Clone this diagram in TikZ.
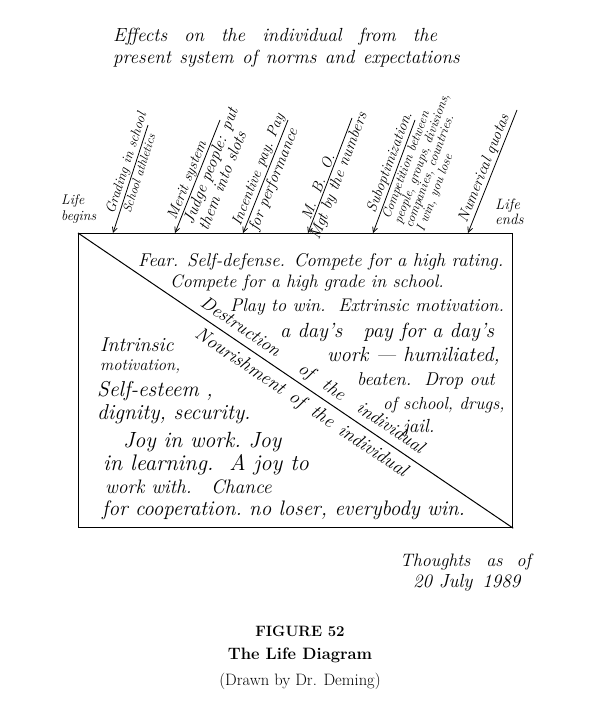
\documentclass[tikz,border=0pt]{standalone}
\usepackage{fontspec}
\usetikzlibrary{arrows.meta,positioning}

\tikzset{
  hand/.style={font=\fontsize{#1}{#1}\selectfont\itshape, inner sep=0pt},
  hand/.default=19,
  lbl/.style={hand=#1, sloped, inner sep=1.5pt},
  lbl/.default=15,
  arr/.style={<-, >={Straight Barb[length=5pt,width=5pt]}, line width=.8pt},
  cap/.style={font=\fontsize{#1}{#1}\selectfont},
}

\begin{document}
\begin{tikzpicture}[x=1pt,y=1pt]
  \fill[white] (0,0) rectangle (600,-717);
  \useasboundingbox (0,0) rectangle (600,-717);

  % heading
  \node[hand=19, anchor=west] (head1) at (113,-37)
    {\spaceskip=17pt Effects on the individual from the};
  \node[hand=19, anchor=west] (head2) at (113,-59)
    {\spaceskip=8.5pt present system of norms and expectations};

  % the box
  \node[draw, line width=1.2pt, minimum width=434pt, minimum height=294pt,
        anchor=north west, inner sep=0pt] (frame) at (78,-233) {};
  \draw[line width=1pt] (frame.north west) -- (frame.south east);

  \node[hand=14, anchor=west, align=left, font=\fontsize{14}{16}\selectfont\itshape] (begins) at (61,-209) {Life\\begins};
  \node[hand=15, anchor=west, align=left, font=\fontsize{15}{15}\selectfont\itshape] (ends) at (495,-212) {Life\\ends};

  % arrows onto the box
  \coordinate (gT) at (148,-125); \coordinate (gB) at (113,-233);
  \coordinate (mT) at (220,-120); \coordinate (mB) at (175,-233);
  \coordinate (iT) at (288,-120); \coordinate (iB) at (243,-233);
  \coordinate (oT) at (352,-118); \coordinate (oB) at (308,-233);
  \coordinate (sT) at (415,-120); \coordinate (sB) at (373,-233);
  \coordinate (nT) at (517,-110); \coordinate (nB) at (468,-233);

  \draw[arr] (gB) -- (gT)
    node[lbl=14, pos=.62, above] (grading) {Grading in school}
    node[lbl=12.5, pos=.57, below] (athletics) {School athletics};
  \draw[arr] (mB) -- (mT)
    node[lbl=15, pos=.44, above, inner sep=.5pt] (merit) {Merit system}
    node[lbl=16.5, pos=.62, below, align=left] (judge) {Judge people: put\\them into slots};
  \draw[arr] (iB) -- (iT)
    node[lbl=15, pos=.53, above] (incentive) {Incentive pay.\ Pay}
    node[lbl=16, pos=.5, below] (perform) {for performance};
  \draw[arr] (oB) -- (oT)
    node[lbl=15, pos=.38, above] (mbo) {M.~~B.~~O.}
    node[lbl=16, pos=.52, below] (numbers) {Mgt by the numbers};
  \draw[arr] (sB) -- (sT)
    node[lbl=15, pos=.6, above] (subopt) {Suboptimization.}
    node[lbl=13, pos=.72, below, align=left, font=\fontsize{13}{11.5}\selectfont\itshape] (compete)
      {Competition between\\people, groups, divisions,\\companies, countries.\\I win, you lose};
  \draw[arr] (nB) -- (nT)
    node[lbl=15.5, pos=.5, above] (quotas) {Numerical quotas};

  % upper triangle
  \foreach \txt/\x/\y/\s [count=\i] in {
    {Fear. Self-defense. Compete for a high rating.}/138/262/18.5,
    {Compete for a high grade in school.}/170/283/18,
    {Play to win.\ \ Extrinsic motivation.}/230/307/18.3,
    {a day's\ \ \ pay for a day's}/280/332/20.5,
    {work --- humiliated,}/327/356/20.5,
    {beaten.\ \ Drop out}/357/381/18.5,
    {of school, drugs,}/383/405/17.5,
    {jail.}/403/428/19}
    \node[hand=\s, anchor=west] (up\i) at (\x,-\y) {\txt};

  % lower triangle
  \foreach \txt/\x/\y/\s [count=\i] in {
    {Intrinsic}/100/345/20,
    {motivation,}/100/367/16.5,
    {Self-esteem ,}/97/391/21.5,
    {dignity, security.}/97/414/21.5,
    {Joy in work.\ Joy}/123/442/22,
    {in learning.\ \ A joy to}/103/465/22.5,
    {work with.\quad Chance}/105/487/19.5,
    {for cooperation.\ no loser, everybody win.}/102/510/21}
    \node[hand=\s, anchor=west] (lo\i) at (\x,-\y) {\txt};

  % along the diagonal
  \node[hand=18.5, rotate=-34] (destr) at (312,-376)
    {Destruction\hspace{26pt}of\hspace{14pt}the\hspace{18pt}individual};
  \node[hand=19, rotate=-34] (nourish) at (301,-403)
    {Nourishment\hspace{9pt}of\hspace{11pt}the\hspace{9pt}individual};

  \node[hand=18, anchor=west] (thoughts) at (400,-562) {Thoughts\hspace{16pt}as\hspace{14pt}of};
  \node[hand=19, anchor=west] (date) at (413,-583) {20 July\hspace{10pt}1989};

  % caption
  \node[cap=15] (fig) at (300,-631) {\bfseries FIGURE 52};
  \node[cap=16.5] (title) at (300,-655) {\bfseries The Life Diagram};
  \node[cap=16.5] (drawn) at (300,-681) {(Drawn by Dr. Deming)};
\end{tikzpicture}
\end{document}
